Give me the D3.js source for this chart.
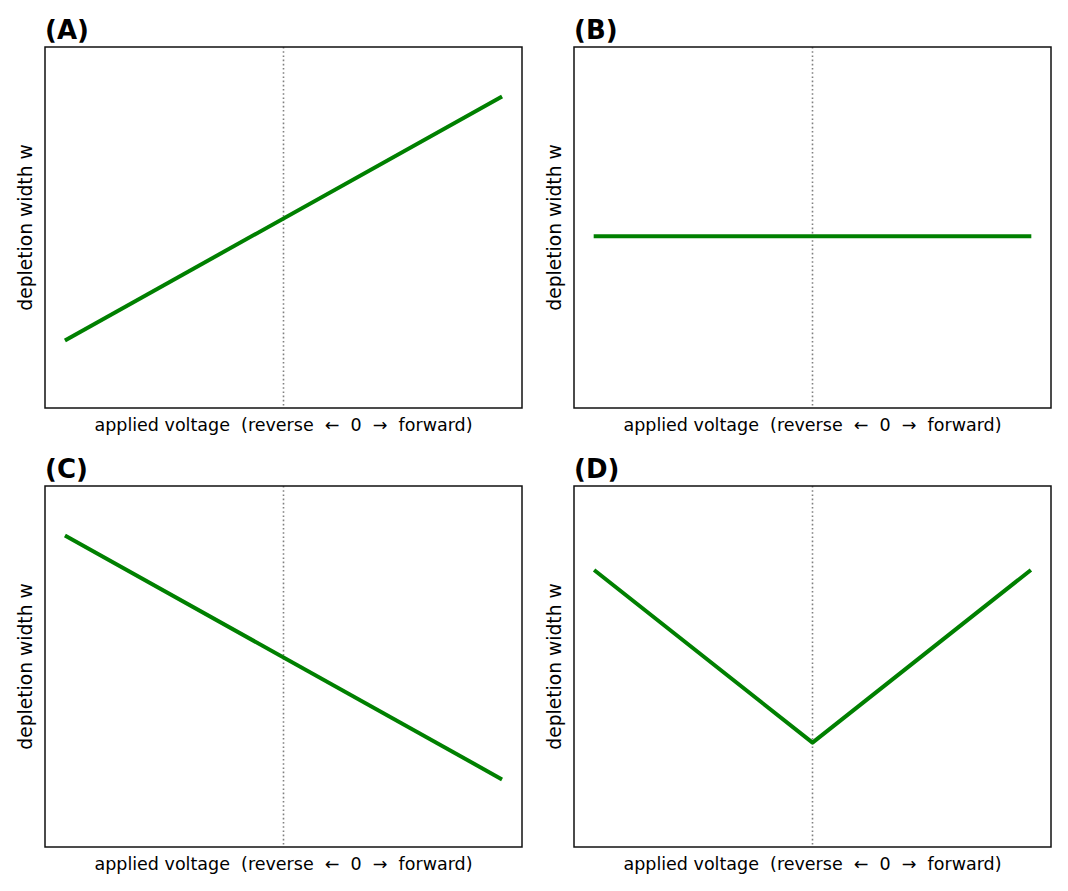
<!DOCTYPE html>
<html>
<head>
<meta charset="utf-8">
<script src="https://cdn.jsdelivr.net/npm/d3@7"></script>
<style>
  body { margin: 0; background: #fff; }
  text { font-family: "DejaVu Sans", sans-serif; white-space: pre; }
</style>
</head>
<body>
<svg id="chart" width="1068" height="891"></svg>
<script>
// panel data: applied voltage (x) vs depletion width (y)
const panelLabels = ["(A)", "(B)", "(C)", "(D)"];
const voltageA = [-1, 1];
const widthA = [0.19, 0.86];
const voltageB = [-1, 1];
const widthB = [0.476, 0.476];
const voltageC = [-1, 1];
const widthC = [0.86, 0.19];
const voltageD = [-1, 0, 1];
const widthD = [0.764, 0.289, 0.764];
const xLabel = "applied voltage  (reverse  \u2190  0  \u2192  forward)";
const yLabel = "depletion width w";

const panels = [
  { label: panelLabels[0], x: voltageA, y: widthA },
  { label: panelLabels[1], x: voltageB, y: widthB },
  { label: panelLabels[2], x: voltageC, y: widthC },
  { label: panelLabels[3], x: voltageD, y: widthD }
];

const svg = d3.select("#chart");

// layout
const lefts = [45, 574];
const tops = [47, 486];
const pw = 477, ph = 361;

panels.forEach((p, i) => {
  const ox = lefts[i % 2];
  const oy = tops[Math.floor(i / 2)];
  const g = svg.append("g").attr("transform", `translate(${ox},${oy})`);

  const x = d3.scaleLinear().domain([-1.1, 1.1]).range([0, pw]);
  const y = d3.scaleLinear().domain([0, 1]).range([ph, 0]);

  // zero line
  g.append("line")
    .attr("x1", x(0)).attr("x2", x(0))
    .attr("y1", 0).attr("y2", ph)
    .attr("stroke", "#808080")
    .attr("stroke-width", 1.6)
    .attr("stroke-dasharray", "1.6,2.6");

  const line = d3.line().x((d) => x(d[0])).y((d) => y(d[1]));
  g.append("path")
    .datum(p.x.map((v, k) => [v, p.y[k]]))
    .attr("d", line)
    .attr("fill", "none")
    .attr("stroke", "#008000")
    .attr("stroke-width", 4)
    .attr("stroke-linecap", "square")
    .attr("stroke-linejoin", "round");

  // frame
  g.append("rect")
    .attr("width", pw).attr("height", ph)
    .attr("fill", "none")
    .attr("stroke", "#111")
    .attr("stroke-width", 1.5);

  g.append("text")
    .attr("x", 0).attr("y", -8)
    .attr("font-size", 26)
    .attr("font-weight", "bold")
    .text(p.label);

  g.append("text")
    .attr("x", pw / 2).attr("y", ph + 23)
    .attr("text-anchor", "middle")
    .attr("font-size", 17.5)
    .text(xLabel);

  g.append("text")
    .attr("transform", `translate(-13,${ph / 2}) rotate(-90)`)
    .attr("text-anchor", "middle")
    .attr("font-size", 18.7)
    .text(yLabel);
});
</script>
</body>
</html>
